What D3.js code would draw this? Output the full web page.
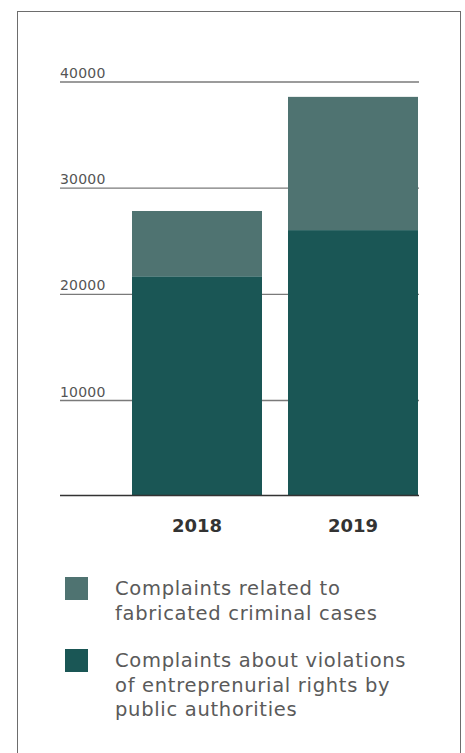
<!DOCTYPE html>
<html>
<head>
<meta charset="utf-8">
<script src="https://cdn.jsdelivr.net/npm/d3@7"></script>
<style>
  body { margin: 0; background: #fff; }
  svg { display: block; }
</style>
</head>
<body>
<div id="chart"></div>
<script>
var years = ["2018", "2019"];
var entrepreneurial = [21700, 26050]; // lower segment
var fabricated = [6150, 12550];       // upper segment
var seriesLabels = [
  ["Complaints related to", "fabricated criminal cases"],
  ["Complaints about violations", "of entreprenurial rights by", "public authorities"]
];
var tickValues = [10000, 20000, 30000, 40000];
var axisMin = 1100, axisMax = 40000;

var width = 465, height = 753;
var colors = ["#4f7371", "#1a5655"]; // fabricated, entrepreneurial
var font = "'DejaVu Sans', sans-serif";

var svg = d3.select("#chart").append("svg")
  .attr("width", width)
  .attr("height", height);

// outer frame
svg.append("rect")
  .attr("x", 17.5).attr("y", 11.5)
  .attr("width", 443).attr("height", 760)
  .attr("fill", "none")
  .attr("stroke", "#6d6d6d")
  .attr("stroke-width", 1);

var y = d3.scaleLinear().domain([axisMin, axisMax]).range([495, 82]);
var x = d3.scaleBand().domain(years).range([132, 418]).paddingInner(26 / 156).paddingOuter(0);

// gridlines + tick labels
var grid = svg.append("g");
grid.selectAll("line").data(tickValues).enter().append("line")
  .attr("x1", 60).attr("x2", 419)
  .attr("y1", function(d) { return y(d); })
  .attr("y2", function(d) { return y(d); })
  .attr("stroke", "#7a7a7a")
  .attr("stroke-width", 1.4);
grid.selectAll("text").data(tickValues).enter().append("text")
  .attr("x", 60)
  .attr("y", function(d) { return y(d) - 4; })
  .attr("font-family", font)
  .attr("font-size", 14)
  .attr("letter-spacing", 0.2)
  .attr("fill", "#555")
  .text(function(d) { return d; });

// stacked bars
var stackData = years.map(function(yr, i) {
  return {year: yr, entrepreneurial: entrepreneurial[i], fabricated: fabricated[i]};
});
var stack = d3.stack().keys(["entrepreneurial", "fabricated"]);
var layers = stack(stackData);

svg.selectAll(".layer").data(layers).enter().append("g")
  .attr("class", "layer")
  .attr("fill", function(d) { return d.key == "fabricated" ? colors[0] : colors[1]; })
  .selectAll("rect").data(function(d) { return d; }).enter().append("rect")
  .attr("x", function(d) { return x(d.data.year); })
  .attr("width", x.bandwidth())
  .attr("y", function(d) { return y(d[1]); })
  .attr("height", function(d) { return y(Math.max(d[0], axisMin)) - y(d[1]); });

// baseline
svg.append("line")
  .attr("x1", 60).attr("x2", 419)
  .attr("y1", y(axisMin) + 0.5).attr("y2", y(axisMin) + 0.5)
  .attr("stroke", "#333")
  .attr("stroke-width", 1.4);

// year labels
svg.selectAll(".year").data(years).enter().append("text")
  .attr("class", "year")
  .attr("x", function(d) { return x(d) + x.bandwidth() / 2; })
  .attr("y", 532)
  .attr("text-anchor", "middle")
  .attr("font-family", font)
  .attr("font-weight", "bold")
  .attr("font-size", 18)
  .attr("fill", "#333")
  .text(function(d) { return d; });

// legend
var legendTop = [577, 649];
var legend = svg.selectAll(".legend").data(seriesLabels).enter().append("g")
  .attr("class", "legend")
  .attr("transform", function(d, i) { return "translate(65," + legendTop[i] + ")"; });
legend.append("rect")
  .attr("width", 23).attr("height", 23)
  .attr("fill", function(d, i) { return colors[i]; });
legend.append("text")
  .attr("font-family", font)
  .attr("font-size", 19.5)
  .attr("letter-spacing", 0.7)
  .attr("fill", "#5a5a5a")
  .selectAll("tspan").data(function(d) { return d; }).enter().append("tspan")
  .attr("x", 50)
  .attr("y", function(d, j) { return 18 + j * 24.5; })
  .text(function(d) { return d; });
</script>
</body>
</html>
